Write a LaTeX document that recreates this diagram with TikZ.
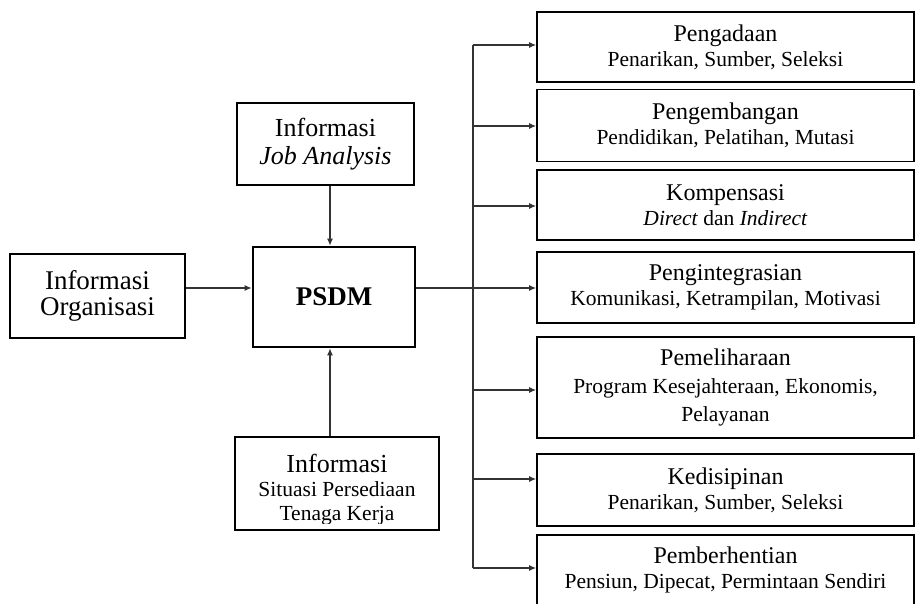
\documentclass[tikz,border=0pt]{standalone}
\usepackage{fontspec}
\setmainfont{Liberation Serif}
\usetikzlibrary{arrows.meta}
\tikzset{
  box/.style={draw, line width=1.6pt, inner sep=0pt, align=center, fill=white},
  rbox/.style={box, minimum width=377pt, font=\fontsize{21.5pt}{25pt}\selectfont},
  conn/.style={draw=black!80, line width=1.3pt},
  arr/.style={conn, -{Latex[length=7pt,width=6pt]}},
}
\newcommand\rt[1]{{\fontsize{24pt}{25pt}\selectfont #1}}
\begin{document}
\begin{tikzpicture}[x=1pt,y=-1pt]
\useasboundingbox (0,0) rectangle (916,604);
\clip (0,0) rectangle (916,604);
% left boxes
\node[box, minimum width=175pt, minimum height=84pt, font=\fontsize{27pt}{26pt}\selectfont] (org) at (97.5,296) {Informasi\\Organisasi};
\node[box, line width=2.6pt, minimum width=162pt, minimum height=100pt, font=\fontsize{27pt}{30pt}\selectfont\bfseries] (psdm) at (334,297) {PSDM};
\node[box, minimum width=177pt, minimum height=82pt, font=\fontsize{26pt}{28pt}\selectfont] (job) at (325.5,144) {Informasi\\\textit{Job Analysis}};
\node[box, minimum width=204pt, minimum height=93pt, font=\fontsize{21.5pt}{24pt}\selectfont] (sit) at (337,483.5) {\rule{0pt}{31pt}{\fontsize{26pt}{24pt}\selectfont Informasi}\\Situasi Persediaan\\Tenaga Kerja};
\fill[white] ([xshift=10pt,yshift=7pt]sit.south west) rectangle ([xshift=-10pt,yshift=1.5pt]sit.south east);
% right boxes
\node[rbox, minimum height=70pt] (r1) at (725.5,47) {\rt{Pengadaan}\\Penarikan, Sumber, Seleksi};
\node[rbox, minimum height=72pt] (r2) at (725.5,125.5) {\rt{Pengembangan}\\Pendidikan, Pelatihan, Mutasi};
\node[rbox, minimum height=70pt] (r3) at (725.5,205) {\rt{Kompensasi}\\\textit{Direct} dan \textit{Indirect}};
\node[rbox, minimum height=71pt] (r4) at (725.5,287.5) {\rt{Pengintegrasian}\\Komunikasi, Ketrampilan, Motivasi};
\node[rbox, minimum height=101pt, font=\fontsize{21.5pt}{28pt}\selectfont] (r5) at (725.5,387.5) {\rt{Pemeliharaan}\\Program Kesejahteraan, Ekonomis,\\Pelayanan};
\node[rbox, minimum height=72pt] (r6) at (725.5,490) {\rt{Kedisipinan}\\Penarikan, Sumber, Seleksi};
\node[rbox, minimum height=70pt] (r7) at (725.5,570) {\rt{Pemberhentian}\\Pensiun, Dipecat, Permintaan Sendiri};
% connectors
\coordinate (t1) at (473,45);
\coordinate (t2) at (473,126);
\coordinate (t3) at (473,206);
\coordinate (t4) at (473,288);
\coordinate (t5) at (473,390);
\coordinate (t6) at (473,479);
\coordinate (t7) at (473,568);
\draw[arr] (org.east |- 0,288) -- (psdm.west |- 0,288);
\draw[arr] (job.south -| 330,0) -- (psdm.north -| 330,0);
\draw[arr] (sit.north -| 330,0) -- (psdm.south -| 330,0);
\draw[conn] (psdm.east |- t4) -- (t4);
\draw[conn] (t1) -- (t7);
\draw[arr] (t1) -- (r1.west |- t1);
\draw[arr] (t2) -- (r2.west |- t2);
\draw[arr] (t3) -- (r3.west |- t3);
\draw[arr] (t4) -- (r4.west |- t4);
\draw[arr] (t5) -- (r5.west |- t5);
\draw[arr] (t6) -- (r6.west |- t6);
\draw[arr] (t7) -- (r7.west |- t7);
\end{tikzpicture}
\end{document}
